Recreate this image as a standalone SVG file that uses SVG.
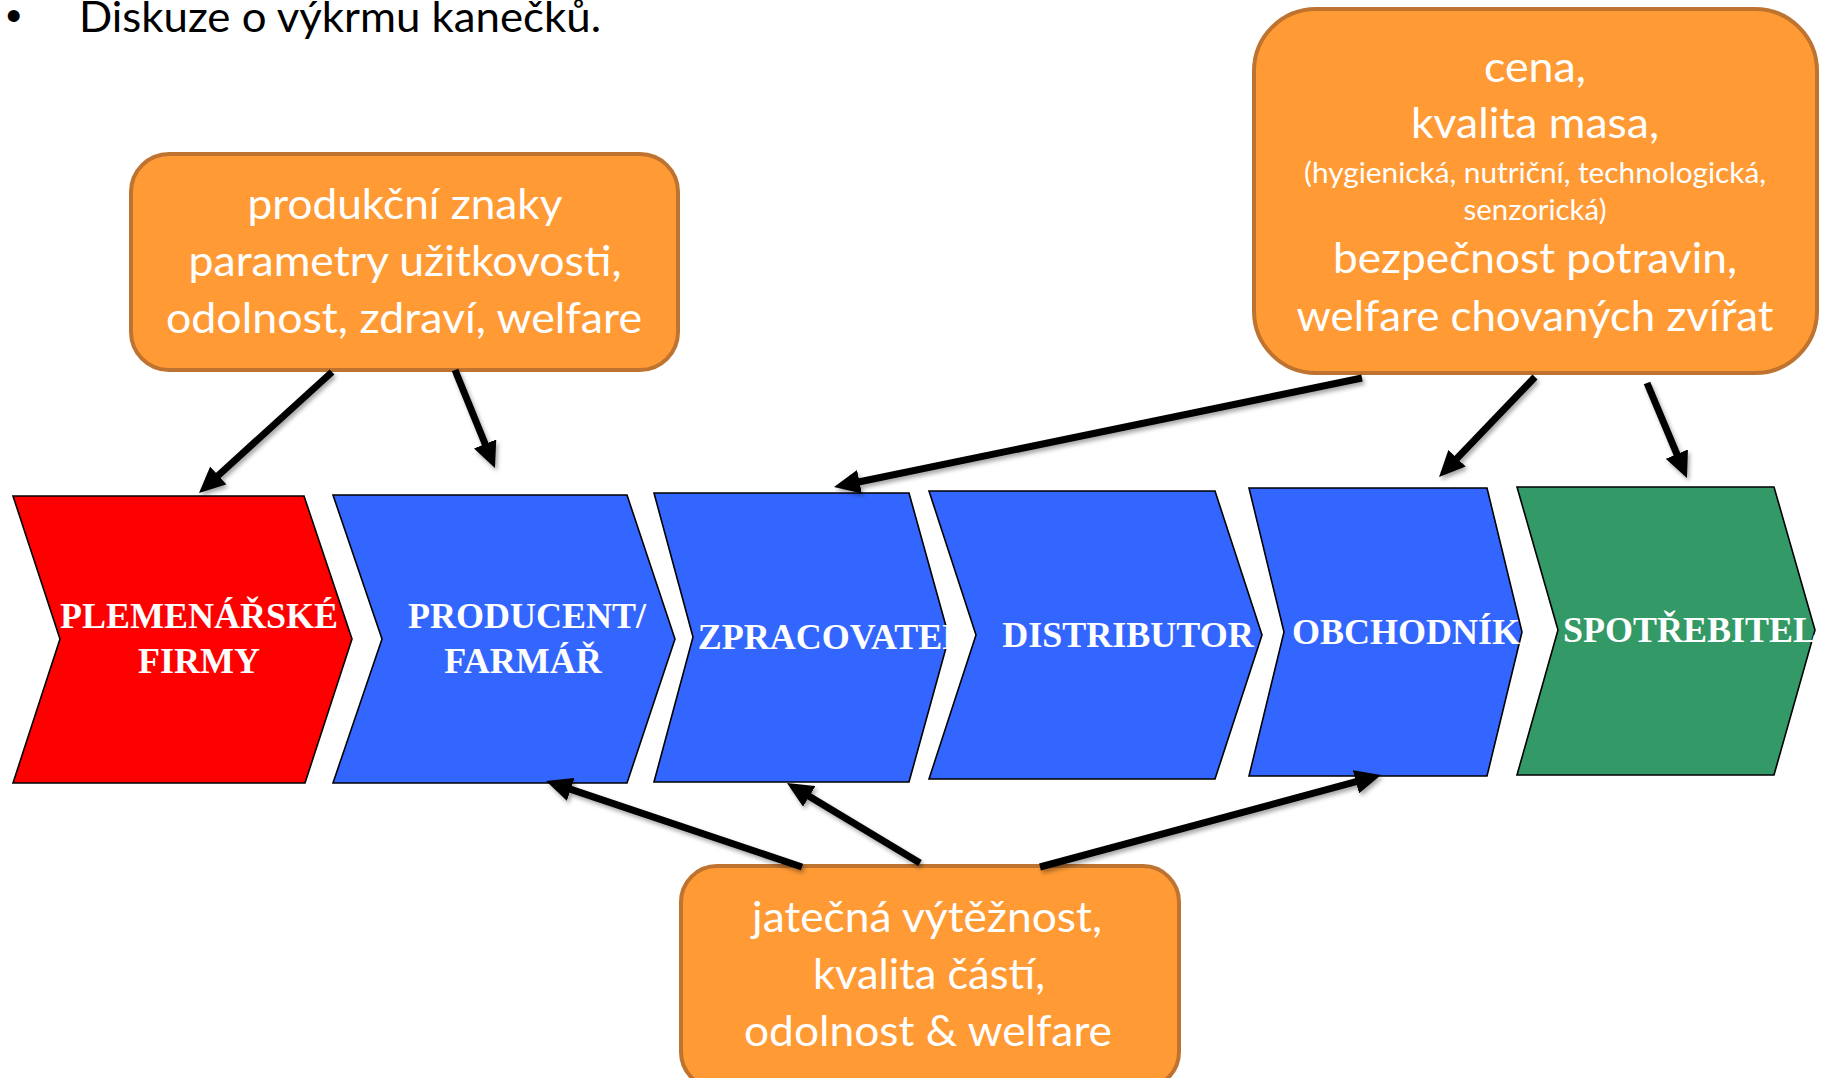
<svg xmlns="http://www.w3.org/2000/svg" width="1829" height="1078" viewBox="0 0 1829 1078">
<style>
.box{fill:#FF9A35;stroke:#BE7430;stroke-width:4}
.bt{font-family:Lato,"Open Sans","Liberation Sans",sans-serif;fill:#fff;text-anchor:middle}
.chev{stroke:#000;stroke-width:1.6}
.ct{font-family:"Liberation Serif","Times New Roman",serif;font-weight:bold;font-size:36px;fill:#fff;text-anchor:middle}
.arr{stroke:#000;stroke-width:7;fill:none;marker-end:url(#ah)}
</style>
<defs>
<marker id="ah" markerUnits="userSpaceOnUse" markerWidth="26" markerHeight="24" refX="6" refY="12" orient="auto">
<path d="M0,0 L26,12 L0,24 z" fill="#000"/>
</marker>
<filter id="sh" x="-10%" y="-10%" width="120%" height="120%">
<feDropShadow dx="2" dy="3" stdDeviation="2" flood-color="#000" flood-opacity="0.35"/>
</filter>
</defs>
<rect width="1829" height="1078" fill="#fff"/>

<g id="title">
<text x="6" y="31" font-family="'Liberation Sans',Arial,sans-serif" font-size="44" fill="#000">•</text>
<text x="79" y="32" font-family="Lato,'Open Sans',sans-serif" font-size="42" fill="#000" textLength="522" lengthAdjust="spacingAndGlyphs">Diskuze o výkrmu kanečků.</text>
</g>

<g id="chevron-plemenarske">
<polygon class="chev" fill="#FF0000" points="13,496 304,496 352,639 305,783 13,783 60,639"/>
<text class="ct" x="199" y="628">PLEMENÁŘSKÉ</text>
<text class="ct" x="199" y="673">FIRMY</text>
</g>
<g id="chevron-producent">
<polygon class="chev" fill="#3366FF" points="333,495 627,495 675,639 627,783 333,783 382,639"/>
<text class="ct" x="527" y="628">PRODUCENT/</text>
<text class="ct" x="523" y="673">FARMÁŘ</text>
</g>
<g id="chevron-zpracovatel">
<polygon class="chev" fill="#3366FF" points="654,493 909,493 949,637 909,782 654,782 693,637"/>
<text class="ct" x="832" y="649">ZPRACOVATEL</text>
</g>
<g id="chevron-distributor">
<polygon class="chev" fill="#3366FF" points="929,491 1215,491 1262,635 1215,779 929,779 976,635"/>
<text class="ct" x="1128" y="647">DISTRIBUTOR</text>
</g>
<g id="chevron-obchodnik">
<polygon class="chev" fill="#3366FF" points="1249,488 1487,488 1522,632 1487,776 1249,776 1284,632"/>
<text class="ct" x="1406" y="644">OBCHODNÍK</text>
</g>
<g id="chevron-spotrebitel">
<polygon class="chev" fill="#339966" points="1517,487 1774,487 1815,630 1774,775 1517,775 1558,630"/>
<text class="ct" x="1690" y="642">SPOTŘEBITEL</text>
</g>

<g id="box-produkcni">
<rect class="box" x="131" y="154" width="547" height="216" rx="38"/>
<text class="bt" font-size="43" x="405" y="219" textLength="315" lengthAdjust="spacingAndGlyphs">produkční znaky</text>
<text class="bt" font-size="43" x="405" y="276" textLength="433" lengthAdjust="spacingAndGlyphs">parametry užitkovosti,</text>
<text class="bt" font-size="43" x="404" y="333" textLength="476" lengthAdjust="spacingAndGlyphs">odolnost, zdraví, welfare</text>
</g>

<g id="box-cena">
<rect class="box" x="1254" y="9" width="563" height="364" rx="62"/>
<text class="bt" font-size="43" x="1535" y="82" textLength="102" lengthAdjust="spacingAndGlyphs">cena,</text>
<text class="bt" font-size="43" x="1535" y="138" textLength="248" lengthAdjust="spacingAndGlyphs">kvalita masa,</text>
<text class="bt" font-size="28" x="1535" y="183" textLength="462" lengthAdjust="spacingAndGlyphs">(hygienická, nutriční, technologická,</text>
<text class="bt" font-size="28" x="1535" y="220" textLength="143" lengthAdjust="spacingAndGlyphs">senzorická)</text>
<text class="bt" font-size="43" x="1535" y="273" textLength="404" lengthAdjust="spacingAndGlyphs">bezpečnost potravin,</text>
<text class="bt" font-size="43" x="1535" y="331" textLength="477" lengthAdjust="spacingAndGlyphs">welfare chovaných zvířat</text>
</g>

<g id="box-jatecna">
<rect class="box" x="681" y="866" width="498" height="222" rx="36"/>
<text class="bt" font-size="43" x="927" y="932" textLength="350" lengthAdjust="spacingAndGlyphs">jatečná výtěžnost,</text>
<text class="bt" font-size="43" x="929" y="989" textLength="232" lengthAdjust="spacingAndGlyphs">kvalita částí,</text>
<text class="bt" font-size="43" x="928" y="1046" textLength="368" lengthAdjust="spacingAndGlyphs">odolnost &amp; welfare</text>
</g>

<g id="connectors" filter="url(#sh)">
<line class="arr" x1="332" y1="372" x2="213.8" y2="479.5"/>
<line class="arr" x1="455" y1="370" x2="487.4" y2="449.5"/>
<line class="arr" x1="1362" y1="378" x2="853.6" y2="483"/>
<line class="arr" x1="1535" y1="377" x2="1452.9" y2="462.6"/>
<line class="arr" x1="1647" y1="383" x2="1679.2" y2="459.6"/>
<line class="arr" x1="802" y1="867" x2="565" y2="787.4"/>
<line class="arr" x1="920" y1="863" x2="804.1" y2="793.3"/>
<line class="arr" x1="1040" y1="867" x2="1361.7" y2="780.2"/>
</g>
</svg>
